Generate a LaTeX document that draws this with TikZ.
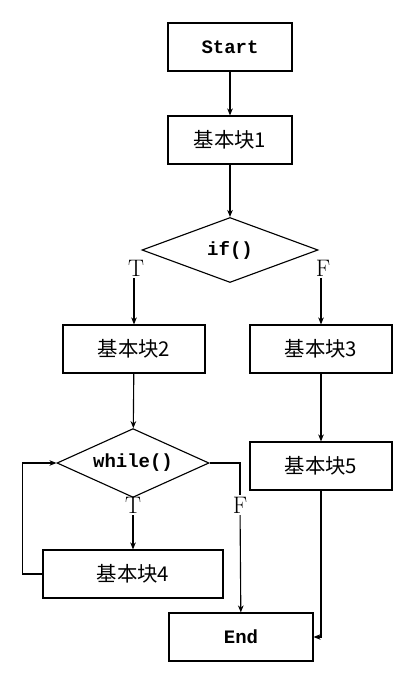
\documentclass[tikz,border=0pt]{standalone}
\usepackage{fontspec}
\setmonofont{Liberation Mono}
\newfontfamily\cjk{Noto Sans CJK SC}
\usepackage{tikz}
\usetikzlibrary{positioning, shapes.geometric, arrows.meta}

\begin{document}
\begin{tikzpicture}[x=0.025cm, y=-0.025cm, line width=0.8pt, >={Stealth[length=5pt, width=4pt]}]
    \tikzset{
        block/.style={
                draw, rectangle, inner sep=0pt, minimum height=1.2cm
            },
        block text/.style={
                font=\fontsize{14.5}{16}\selectfont\cjk
            },
        code text/.style={
                font=\fontsize{13.5}{16}\selectfont\ttfamily\bfseries
            },
        decision/.style={
                draw, diamond, shape aspect=2.2, inner sep=0pt, code text
            },
        branch label/.style={
                font=\fontsize{17}{18}\selectfont, inner sep=1pt
            }
    }

    \useasboundingbox (0,0) rectangle (400,675);

    % --- Bloecke ---
    \node[block, code text, minimum width=3.1cm] (start) at (230, 47) {Start};
    \node[block, block text, minimum width=3.1cm] (b1) at (230, 140) {基本块1};
    \node[decision, minimum width=4.4cm, minimum height=1.625cm] (if) at (230, 250) {if()};
    \node[block, block text, minimum width=3.55cm] (b2) at (134, 349) {基本块2};
    \node[block, block text, minimum width=3.55cm] (b3) at (321, 349) {基本块3};
    \node[decision, minimum width=3.8cm, minimum height=1.72cm] (wh) at (133, 463) {while()};
    \node[block, block text, minimum width=3.55cm] (b5) at (321, 466) {基本块5};
    \node[block, block text, minimum width=4.5cm] (b4) at (133, 574) {基本块4};
    \node[block, code text, minimum width=3.6cm] (end) at (241, 637) {End};

    % --- Beschriftungen T / F ---
    \node[branch label] (tIf) at (136, 268) {T};
    \node[branch label] (fIf) at (323, 268) {F};
    \node[branch label] (tWh) at (133, 505) {T};
    \node[branch label] (fWh) at (240, 505) {F};

    % --- Verbindungen ---
    \draw[->] (start) -- (b1);
    \draw[->] (b1) -- (if);
    \draw[->] (tIf.south -| b2.north) -- (b2);
    \draw[->] (fIf.south -| b3.north) -- (b3);
    \draw[->] (b2) -- (wh);
    \draw[->] (b3) -- (b5);
    \draw[->] (tWh) -- (b4);
    \draw (wh.east) -| (fWh.north);
    \draw[->] (fWh) -- (end);
    \draw[->] (b4.west) -- ++(-20,0) |- (wh.west);
    \draw[->] (b5.south) |- (end.east);
\end{tikzpicture}
\end{document}
